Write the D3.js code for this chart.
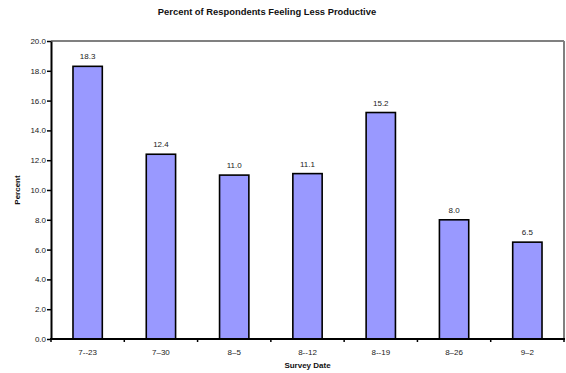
<!DOCTYPE html>
<html>
<head>
<meta charset="utf-8">
<script src="https://cdn.jsdelivr.net/npm/d3@7"></script>
<style>
  html, body { margin: 0; padding: 0; background: #fff; }
  svg { display: block; font-family: "Liberation Sans", Arial, sans-serif; }
</style>
</head>
<body>
<svg id="chart" width="566" height="373"></svg>
<script>
// Survey dates and the share of respondents feeling less productive
const surveyDates = ["7--23", "7\u201330", "8\u20135", "8--12", "8--19", "8\u201326", "9\u20132"];
const percentValues = [18.3, 12.4, 11.0, 11.1, 15.2, 8.0, 6.5];
const yTickValues = [0, 2, 4, 6, 8, 10, 12, 14, 16, 18, 20];

const svg = d3.select("#chart");
const margin = { top: 41, right: 2, bottom: 34, left: 51 };
const width = 566 - margin.left - margin.right;
const height = 373 - margin.top - margin.bottom;

const x = d3.scaleBand().domain(surveyDates).range([0, width]).paddingInner(0.6).paddingOuter(0.3);
const xBand = d3.scaleBand().domain(surveyDates).range([0, width]);
const y = d3.scaleLinear().domain([0, 20]).range([height, 0]);

const g = svg.append("g").attr("transform", `translate(${margin.left},${margin.top})`);

// Plot frame: grey top and right edges
g.append("line").attr("x1", 0).attr("x2", width).attr("y1", 0).attr("y2", 0)
  .attr("stroke", "#808080").attr("stroke-width", 2);
g.append("line").attr("x1", width).attr("x2", width).attr("y1", 0).attr("y2", height)
  .attr("stroke", "#808080").attr("stroke-width", 2);

// Bars
g.selectAll("rect.bar").data(percentValues).join("rect")
  .attr("class", "bar")
  .attr("x", (d, i) => x(surveyDates[i]))
  .attr("y", d => y(d))
  .attr("width", x.bandwidth())
  .attr("height", d => height - y(d))
  .attr("fill", "#9999FF")
  .attr("stroke", "#000")
  .attr("stroke-width", 1.6);

// Value labels above bars
g.selectAll("text.val").data(percentValues).join("text")
  .attr("class", "val")
  .attr("x", (d, i) => x(surveyDates[i]) + x.bandwidth() / 2)
  .attr("y", d => y(d) - 7)
  .attr("text-anchor", "middle")
  .attr("font-size", 8)
  .attr("fill", "#222")
  .text(d => d.toFixed(1));

// Y axis
const yAxis = g.append("g")
  .call(d3.axisLeft(y).tickValues(yTickValues).tickFormat(d3.format(".1f")).tickSize(4).tickSizeOuter(0));
yAxis.select(".domain").attr("stroke", "#000").attr("stroke-width", 2);
yAxis.selectAll(".tick line").attr("stroke", "#000").attr("stroke-width", 1.5);
yAxis.selectAll(".tick text").attr("font-size", 8).attr("fill", "#222").attr("x", -5)
  .attr("font-family", "Liberation Sans, Arial, sans-serif");

// X axis with tick marks on category boundaries
const xAxisG = g.append("g").attr("transform", `translate(0,${height})`);
xAxisG.append("line").attr("x1", -1).attr("x2", width + 1).attr("y1", 0).attr("y2", 0)
  .attr("stroke", "#000").attr("stroke-width", 2);
const boundaries = surveyDates.map(d => xBand(d)).concat([width]);
xAxisG.selectAll("line.btick").data(boundaries).join("line")
  .attr("class", "btick")
  .attr("x1", d => d).attr("x2", d => d).attr("y1", 0).attr("y2", 3)
  .attr("stroke", "#000").attr("stroke-width", 1.5);
xAxisG.selectAll("text.xlab").data(surveyDates).join("text")
  .attr("class", "xlab")
  .attr("x", d => xBand(d) + xBand.bandwidth() / 2)
  .attr("y", 16)
  .attr("text-anchor", "middle")
  .attr("font-size", 8)
  .attr("fill", "#222")
  .text(d => d);

// Titles
svg.append("text").attr("x", 267).attr("y", 15)
  .attr("text-anchor", "middle").attr("font-size", 9.4).attr("font-weight", "bold").attr("fill", "#111")
  .text("Percent of Respondents Feeling Less Productive");
svg.append("text").attr("x", margin.left + width / 2).attr("y", 368)
  .attr("text-anchor", "middle").attr("font-size", 8).attr("font-weight", "bold").attr("fill", "#111")
  .text("Survey Date");
svg.append("text").attr("transform", `translate(20,${margin.top + height / 2}) rotate(-90)`)
  .attr("text-anchor", "middle").attr("font-size", 8).attr("font-weight", "bold").attr("fill", "#111")
  .text("Percent");
</script>
</body>
</html>
